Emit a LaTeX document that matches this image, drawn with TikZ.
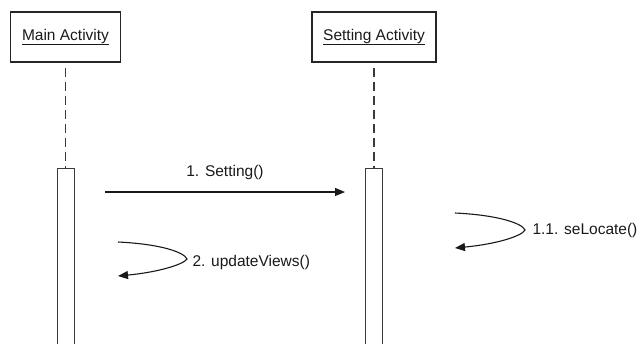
\documentclass[tikz,border=0pt]{standalone}
\usepackage{fontspec}
\setmainfont{Liberation Sans}
\usetikzlibrary{arrows.meta, positioning}
\definecolor{linegray}{HTML}{3A3A3A}

\begin{document}
\begin{tikzpicture}[
    x=1pt, y=-1pt,
    every node/.style={font=\fontsize{15.5}{18}\selectfont, text=black!90},
    object/.style={rectangle, draw=black!85, line width=1.2pt, minimum height=50pt, inner sep=0pt},
    activation/.style={rectangle, draw=linegray, line width=1pt, minimum width=17pt, minimum height=190pt, inner sep=0pt, anchor=north},
    lifeline/.style={draw=linegray, line width=1.2pt, dash pattern=on 9pt off 5pt, dash phase=-5pt},
    message/.style={-{Triangle[length=10pt,width=8pt]}, line width=1.1pt, black!90},
    msglabel/.style={inner sep=0pt},
]

% Frame
\clip (0,0) rectangle (642,343);

% Objects
\node[object, minimum width=110pt] (main) at (65.5,37) {\underline{Main Activity}};
\node[object, minimum width=124pt] (setting) at (374,37) {\underline{Setting Activity}};

% Activation bars
\node[activation] (mainbar) at (65.5,168) {};
\node[activation] (settingbar) at (374,168) {};

% Lifelines
\draw[lifeline] (main) -- (mainbar);
\draw[lifeline] (setting) -- (settingbar);

% Message ends
\coordinate (m1from) at (105,192);
\coordinate (m1to) at (345,192);
\coordinate (c2from) at (118,242);
\coordinate (c2to) at (118,276);
\coordinate (c11from) at (455,213);
\coordinate (c11to) at (455,248);

% Messages
\draw[message] (m1from) -- node[msglabel, above=12pt] {1. Setting()} (m1to);
\draw[message] (c2from) .. controls (160,244) and (184,252) .. (187,259)
    node[msglabel, right=5pt, yshift=-3pt] {2. updateViews()}
    .. controls (184,264) and (160,272) .. (c2to);
\draw[message] (c11from) .. controls (497,215) and (522,223) .. (525,230)
    node[msglabel, right=7pt] {1.1. seLocate()}
    .. controls (522,236) and (497,244) .. (c11to);

\end{tikzpicture}
\end{document}
